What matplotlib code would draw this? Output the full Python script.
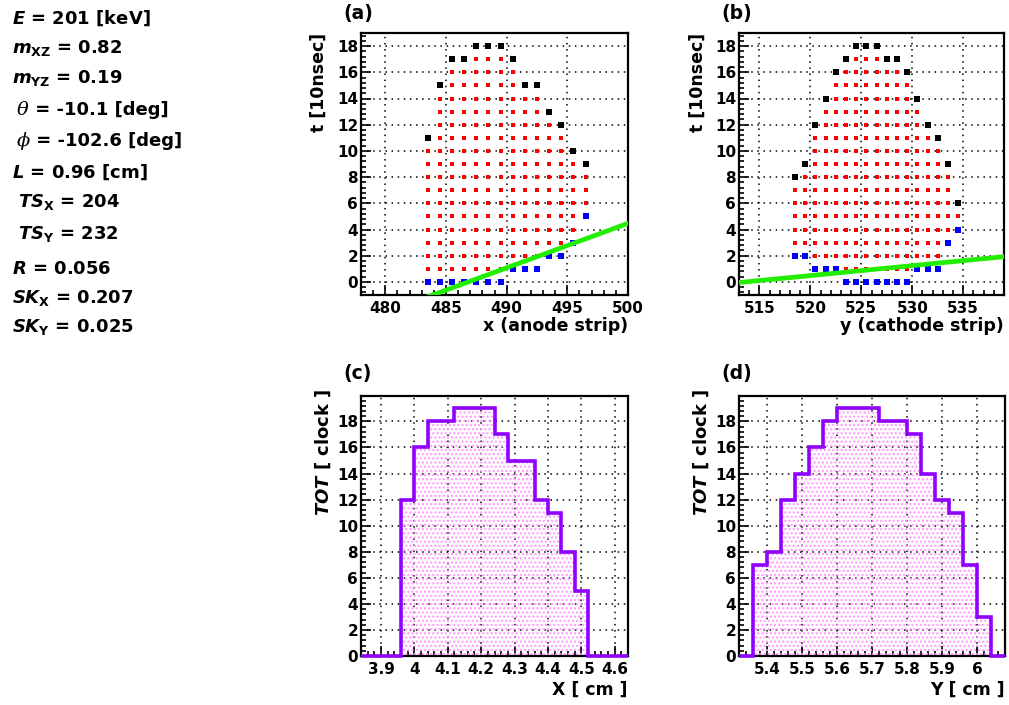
import numpy as np
import matplotlib
matplotlib.use('Agg')
import matplotlib.pyplot as plt
from matplotlib.ticker import MultipleLocator, AutoMinorLocator

plt.rcParams['font.family'] = ['DejaVu Sans']
plt.rcParams['font.weight'] = 'bold'
plt.rcParams['mathtext.fontset'] = 'custom'
plt.rcParams['mathtext.rm'] = 'DejaVu Sans:bold'
plt.rcParams['mathtext.bf'] = 'DejaVu Sans:bold'
plt.rcParams['mathtext.it'] = 'DejaVu Sans:italic:bold'
plt.rcParams['hatch.linewidth'] = 1.1

# --- event parameters (left text panel): (greek symbol or '', text) ---
info_lines = [
    ('', r'$E$ = 201 [keV]'),
    ('', r'$m_{\mathrm{XZ}}$ = 0.82'),
    ('', r'$m_{\mathrm{YZ}}$ = 0.19'),
    ('θ', ' = -10.1 [deg]'),
    ('ϕ', ' = -102.6 [deg]'),
    ('', r'$L$ = 0.96 [cm]'),
    ('', r' $TS_{\mathrm{X}}$ = 204'),
    ('', r' $TS_{\mathrm{Y}}$ = 232'),
    ('', r'$R$ = 0.056'),
    ('', r'$SK_{\mathrm{X}}$ = 0.207'),
    ('', r'$SK_{\mathrm{Y}}$ = 0.025'),
]
info_y = [18, 47, 77, 109, 140, 172, 201, 233, 268, 297, 326]

# --- anode strips (panel a): leading (blue) and trailing (black) clocks ---
anode_strip = [483, 484, 485, 486, 487, 488, 489, 490, 491, 492, 493, 494, 495, 496]
anode_t_start = [0, 0, 0, 0, 0, 0, 0, 1, 1, 1, 2, 2, 3, 5]
anode_t_end = [11, 15, 17, 17, 18, 18, 18, 17, 15, 15, 13, 12, 10, 9]
anode_fit = (0.34, 483.9, -1.0)   # slope, x0, y0 of green track line

# --- cathode strips (panel b) ---
cath_strip = [518, 519, 520, 521, 522, 523, 524, 525, 526, 527, 528, 529, 530,
              531, 532, 533, 534]
cath_t_start = [2, 2, 1, 1, 1, 0, 0, 0, 0, 0, 0, 0, 1, 1, 1, 3, 4]
cath_t_end = [8, 9, 12, 14, 16, 17, 18, 18, 18, 17, 17, 16, 14, 12, 11, 9, 6]
cath_fit = (0.076, 513.0, -0.05)

# --- TOT histograms (panels c, d) ---
tot_x_range = (3.84, 4.64)
tot_x = [0, 0, 0, 12, 16, 18, 18, 19, 19, 19, 17, 15, 15, 12, 11, 8, 5, 0, 0, 0]
tot_y_range = (5.32, 6.08)
tot_y = [0, 7, 8, 12, 14, 16, 18, 19, 19, 19, 18, 18, 17, 14, 12, 11, 7, 3, 0]

W, H = 1009, 705
fig = plt.figure(figsize=(W / 100, H / 100), dpi=100)


def ax_rect(l, r, t, b):
    return [l / W, 1 - b / H, (r - l) / W, (b - t) / H]


def style_axes(ax, xmajor, ymajor):
    ax.xaxis.set_major_locator(MultipleLocator(xmajor))
    ax.yaxis.set_major_locator(MultipleLocator(ymajor))
    ax.xaxis.set_minor_locator(AutoMinorLocator(5))
    ax.yaxis.set_minor_locator(AutoMinorLocator(5))
    ax.tick_params(which='both', direction='in', labelsize=11, width=1.2)
    ax.tick_params(which='major', length=7)
    ax.tick_params(which='minor', length=3.5)
    ax.tick_params(axis='x', pad=4)
    ax.tick_params(axis='y', pad=2)
    ax.grid(True, which='major', linestyle=(0, (1, 3)), color='black', linewidth=1.1)
    ax.set_axisbelow(True)
    for s in ax.spines.values():
        s.set_linewidth(1.6)
    for lab in ax.get_xticklabels() + ax.get_yticklabels():
        lab.set_fontweight('bold')


def hit_panel(ax, strips, t0, t1, fit, xlim):
    rx, ry, bx, by, kx, ky = [], [], [], [], [], []
    for s, a, b in zip(strips, t0, t1):
        x = s + 0.5
        bx.append(x); by.append(a)
        kx.append(x); ky.append(b)
        for t in range(a + 1, b):
            rx.append(x); ry.append(t)
    ax.plot(rx, ry, 's', color='#ff0000', ms=3.3, mew=0, zorder=3)
    ax.plot(bx, by, 's', color='#0000ff', ms=4.8, mew=0, zorder=3)
    ax.plot(kx, ky, 's', color='black', ms=4.8, mew=0, zorder=3)
    slope, x0, y0 = fit
    xs = np.array(xlim, dtype=float)
    ax.plot(xs, y0 + slope * (xs - x0), color='#22ee00', lw=3.4, zorder=4)
    ax.set_xlim(*xlim)
    ax.set_ylim(-1, 19)
    style_axes(ax, 5, 2)
    ax.set_ylabel('t [10nsec]', fontsize=12.5, fontweight='bold', va='center', ha='right')
    ax.yaxis.set_label_coords(-0.157, 1.0)


def tot_panel(ax, vals, xr):
    edges = np.linspace(xr[0], xr[1], len(vals) + 1)
    ax.stairs(vals, edges, fill=True, facecolor='none', edgecolor='#ff9cff',
              hatch='....', linewidth=0, zorder=1)
    ax.stairs(vals, edges, color='#8f00ff', linewidth=2.6, zorder=4, clip_on=False)
    ax.set_xlim(*xr)
    ax.set_ylim(0, 19.95)
    style_axes(ax, 0.1, 2)
    ax.set_ylabel(r'$TOT$ [ clock ]', fontsize=13, fontweight='bold', va='center', ha='right')
    ax.yaxis.set_label_coords(-0.142, 1.03)


def set_xlab(ax, text, ypos):
    ax.set_xlabel(text, fontsize=12.5, fontweight='bold', ha='right', va='center')
    ax.xaxis.set_label_coords(1.0, ypos)


ax_a = fig.add_axes(ax_rect(361, 628, 33, 295))
hit_panel(ax_a, anode_strip, anode_t_start, anode_t_end, anode_fit, (478, 500))
set_xlab(ax_a, 'x (anode strip)', -0.118)

ax_b = fig.add_axes(ax_rect(739, 1004, 33, 295))
hit_panel(ax_b, cath_strip, cath_t_start, cath_t_end, cath_fit, (513, 539))
set_xlab(ax_b, 'y (cathode strip)', -0.118)

ax_c = fig.add_axes(ax_rect(361, 628, 396, 656))
tot_panel(ax_c, tot_x, tot_x_range)
ax_c.set_xticks([3.9, 4.0, 4.1, 4.2, 4.3, 4.4, 4.5, 4.6])
ax_c.set_xticklabels(['3.9', '4', '4.1', '4.2', '4.3', '4.4', '4.5', '4.6'], fontweight='bold')
set_xlab(ax_c, 'X [ cm ]', -0.131)

ax_d = fig.add_axes(ax_rect(739, 1005, 396, 656))
tot_panel(ax_d, tot_y, tot_y_range)
ax_d.set_xticks([5.4, 5.5, 5.6, 5.7, 5.8, 5.9, 6.0])
ax_d.set_xticklabels(['5.4', '5.5', '5.6', '5.7', '5.8', '5.9', '6'], fontweight='bold')
set_xlab(ax_d, 'Y [ cm ]', -0.131)

for label, px, py in [('(a)', 343, 13), ('(b)', 721, 13), ('(c)', 343, 374), ('(d)', 721, 374)]:
    fig.text(px / W, 1 - py / H, label, fontsize=13.5, fontweight='bold', va='center', ha='left')

renderer = fig.canvas.get_renderer()
for (greek, line), py in zip(info_lines, info_y):
    yb = 1 - (py + 6) / H
    x0 = 12 / W
    if greek:
        g = fig.text(17 / W, yb, greek, fontsize=14, family='DejaVu Serif',
                     style='italic', weight='normal', va='baseline', ha='left')
        x0 = g.get_window_extent(renderer).x1 / W
    fig.text(x0, yb, line, fontsize=13, fontweight='bold', va='baseline', ha='left')

fig.savefig('out.png', dpi=100)
